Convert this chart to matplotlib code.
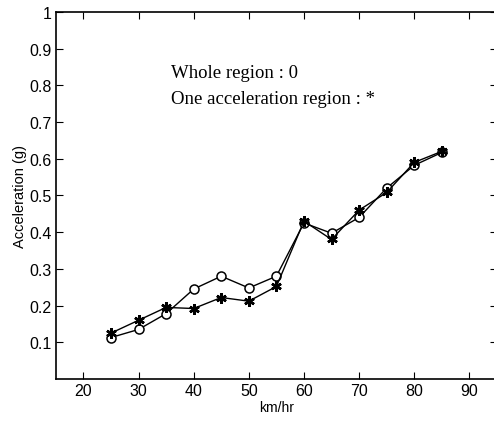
import matplotlib.pyplot as plt

# speeds (km/hr) and measured acceleration (g)
speed = [25, 30, 35, 40, 45, 50, 55, 60, 65, 70, 75, 80, 85]
acc_whole = [0.113, 0.135, 0.178, 0.245, 0.280, 0.248, 0.280, 0.425, 0.397, 0.440, 0.520, 0.582, 0.617]
acc_one = [0.125, 0.160, 0.195, 0.192, 0.222, 0.212, 0.252, 0.430, 0.380, 0.460, 0.508, 0.590, 0.620]

xticks = [20, 30, 40, 50, 60, 70, 80, 90]
yticks = [0.1, 0.2, 0.3, 0.4, 0.5, 0.6, 0.7, 0.8, 0.9, 1]
ytick_labels = ["0.1", "0.2", "0.3", "0.4", "0.5", "0.6", "0.7", "0.8", "0.9", "1"]

plt.rcParams['font.family'] = ['Liberation Sans', 'DejaVu Sans']

fig = plt.figure(figsize=(4.94, 4.27), dpi=100)
ax = fig.add_axes([0.113, 0.110, 0.893, 0.860])

ax.plot(speed, acc_whole, color='black', lw=1.0, marker='o', ms=6.5,
        mfc='white', mec='black', mew=1.1)
ax.plot(speed, acc_one, color='black', lw=1.0, marker=(6, 2, 0), ms=7.5,
        mec='black', mew=1.8)

ax.set_xlim(15, 95)
ax.set_ylim(0, 1)
ax.set_xticks(xticks)
ax.set_yticks(yticks)
ax.set_yticklabels(ytick_labels)
ax.tick_params(direction='in', length=5, width=0.8, labelsize=11.5,
               top=True, right=True, pad=3)
for s in ax.spines.values():
    s.set_linewidth(1.2)
# right border falls at the edge of the figure
ax.spines['right'].set_visible(False)

ax.set_xlabel("km/hr", fontsize=10, labelpad=1)
ax.set_ylabel("Acceleration (g)", fontsize=10.5, labelpad=2)

ax.text(0.262, 0.836, "Whole region : 0", transform=ax.transAxes,
        family='Liberation Serif', fontsize=13.5, va='center')
ax.text(0.262, 0.763, "One acceleration region : *", transform=ax.transAxes,
        family='Liberation Serif', fontsize=13.5, va='center')

fig.savefig("out.png", dpi=100)
